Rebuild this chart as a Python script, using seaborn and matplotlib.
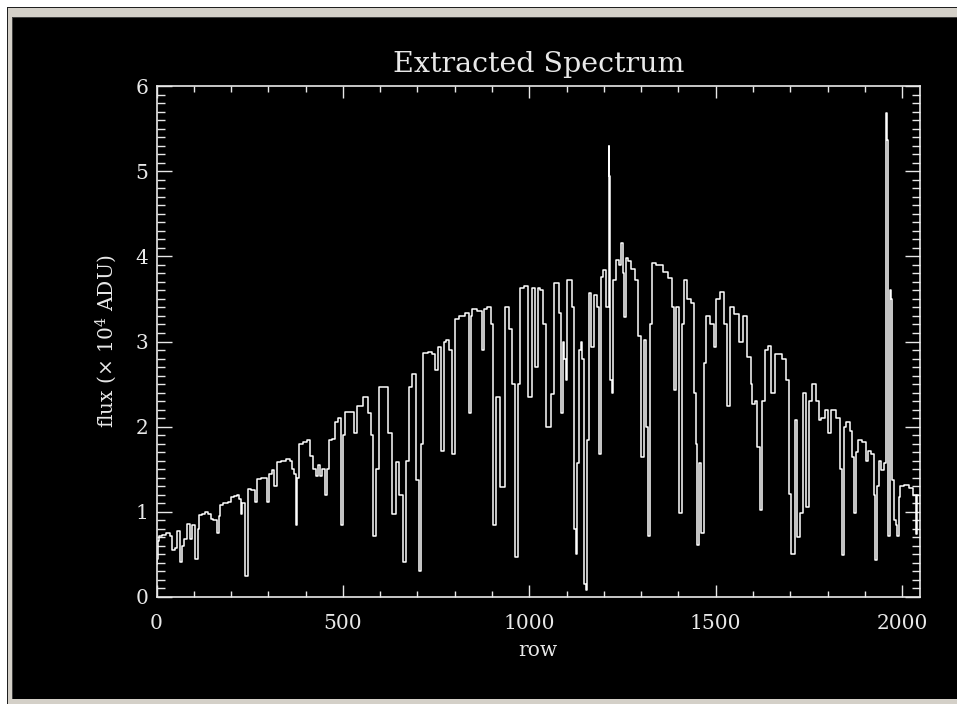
import matplotlib
matplotlib.use("Agg")
import matplotlib.pyplot as plt
from matplotlib.patches import Rectangle
from matplotlib.ticker import MultipleLocator
import seaborn as sns
import pandas as pd

# ---- data (row, flux in 1e4 ADU) ----
rows = [0, 3, 6, 10, 20, 30, 40, 45, 53, 58, 66, 70, 76, 85, 94, 99, 108, 112, 117, 125,
        135, 143, 148, 157, 166, 170, 173, 185, 197, 202, 212, 220, 224, 228, 233, 242, 249, 258,
        268, 273, 290, 295, 300, 305, 313, 318, 326, 340, 355, 360, 365, 372, 376, 380, 385,
        400, 410, 416, 425, 430, 435, 440, 447, 456, 460, 465, 475, 483, 492, 499, 503, 510,
        528, 532, 546, 560, 572, 578, 586, 592, 600, 617, 625, 638, 648, 655, 666, 672, 680,
        690, 702, 706, 712, 720, 735, 745, 751, 760, 768, 775, 780, 787, 797, 805, 820, 835,
        840, 845, 850, 870, 876, 880, 893, 900, 907, 916, 928, 940, 950, 958, 966, 972, 980,
        993, 1002, 1010, 1019, 1025, 1033, 1042, 1050, 1055, 1064, 1068, 1077, 1082, 1089,
        1091, 1095, 1100, 1104, 1113, 1118, 1122, 1126, 1131, 1135, 1140, 1144, 1149, 1153,
        1158, 1162, 1171, 1176, 1185, 1189, 1194, 1202, 1211, 1214, 1216, 1219, 1222, 1229,
        1238, 1244, 1250, 1253, 1256, 1261, 1269, 1278, 1287, 1296, 1303, 1310, 1316, 1321,
        1328, 1332, 1350, 1368, 1377, 1386, 1390, 1399, 1406, 1412, 1417, 1430, 1439, 1444,
        1448, 1453, 1457, 1466, 1471, 1479, 1493, 1497, 1506, 1515, 1529, 1533, 1542, 1555,
        1569, 1578, 1591, 1596, 1600, 1609, 1614, 1621, 1627, 1636, 1645, 1654, 1663, 1672,
        1685, 1694, 1698, 1707, 1716, 1721, 1730, 1739, 1748, 1752, 1766, 1774, 1779, 1788,
        1797, 1806, 1815, 1828, 1837, 1840, 1846, 1855, 1864, 1868, 1873, 1877, 1886, 1900,
        1904, 1913, 1922, 1926, 1931, 1935, 1940, 1949, 1953, 1959, 1962, 1965, 1968, 1972,
        1976, 1980, 1985, 1989, 1993, 1998, 2011, 2025, 2034, 2038, 2043]
flux = [0.39, 0.45, 0.66, 0.72, 0.73, 0.75, 0.72, 0.55, 0.58, 0.78, 0.41, 0.60, 0.68, 0.86, 0.68,
        0.85, 0.45, 0.80, 0.96, 0.98, 1.00, 0.98, 0.92, 0.90, 0.75, 0.95, 1.08, 1.10, 1.12, 1.18,
        1.19, 1.20, 1.15, 0.98, 1.10, 0.25, 1.27, 1.26, 1.12, 1.38, 1.40, 1.40, 1.12, 1.45, 1.49,
        1.30, 1.58, 1.60, 1.62, 1.60, 1.50, 1.45, 0.84, 1.40, 1.80, 1.82, 1.84, 1.66, 1.50, 1.42,
        1.55, 1.42, 1.50, 1.20, 1.50, 1.84, 1.86, 2.05, 2.10, 0.84, 1.90, 2.17, 2.17, 1.92, 2.24,
        2.35, 2.16, 1.90, 0.72, 1.50, 2.46, 2.47, 1.92, 0.98, 1.58, 1.20, 0.41, 1.60, 2.47, 2.62,
        1.37, 0.31, 1.80, 2.86, 2.88, 2.85, 2.66, 2.93, 1.72, 3.00, 3.02, 2.90, 1.68, 3.27, 3.30,
        3.34, 2.16, 3.30, 3.38, 3.36, 2.90, 3.38, 3.40, 3.20, 0.85, 2.35, 1.29, 3.40, 3.15, 2.50,
        0.47, 2.50, 3.63, 3.65, 2.35, 3.63, 2.70, 3.63, 3.60, 3.20, 2.00, 2.00, 2.38, 3.69, 3.69,
        3.33, 2.16, 3.00, 2.80, 2.55, 3.72, 3.72, 3.41, 0.80, 0.51, 1.57, 2.90, 3.00, 2.80, 0.15,
        0.08, 1.84, 3.57, 2.94, 3.55, 3.40, 1.68, 3.76, 3.84, 3.41, 5.29, 4.94, 2.55, 2.40, 3.72,
        3.96, 3.90, 4.16, 3.80, 3.29, 3.98, 3.95, 3.85, 3.72, 3.06, 1.64, 3.02, 2.00, 0.72, 3.20,
        3.92, 3.90, 3.82, 3.75, 3.41, 2.43, 3.41, 0.99, 3.20, 3.72, 3.50, 3.45, 2.40, 1.80, 0.61,
        1.57, 0.75, 2.75, 3.30, 3.20, 2.94, 3.50, 3.58, 3.20, 2.24, 3.40, 3.32, 3.00, 3.30, 2.82,
        2.50, 2.27, 2.30, 1.76, 1.02, 2.30, 2.90, 2.95, 2.40, 2.85, 2.85, 2.80, 2.55, 1.21, 0.51,
        2.08, 0.70, 0.99, 2.40, 1.06, 2.30, 2.50, 2.30, 2.08, 2.10, 2.20, 1.92, 2.20, 2.10, 1.50,
        0.49, 2.00, 2.05, 1.95, 1.64, 0.99, 1.70, 1.84, 1.82, 1.60, 1.72, 1.68, 1.20, 0.43, 1.30,
        1.60, 1.49, 1.57, 5.68, 5.37, 0.72, 3.60, 3.50, 1.37, 0.90, 0.85, 0.72, 1.17, 1.30, 1.32,
        1.28, 1.20, 0.74, 1.20]

x_ticks = [0, 500, 1000, 1500, 2000]
y_ticks = [0, 1, 2, 3, 4, 5, 6]
title_text = "Extracted Spectrum"
x_label = "row"
y_label = r"flux ($\times$ 10$^4$ ADU)"

df = pd.DataFrame({"row": rows, "flux": flux})

W, H = 957, 704
fig = plt.figure(figsize=(W / 100, H / 100), dpi=100)
fig.patch.set_facecolor("white")

plt.rcParams["font.family"] = ["DejaVu Serif"]
plt.rcParams["mathtext.fontset"] = "dejavuserif"

def px_rect(x0, y0, x1, y1, color):
    fig.add_artist(Rectangle((x0 / W, 1 - y1 / H), (x1 - x0) / W, (y1 - y0) / H,
                             transform=fig.transFigure, facecolor=color,
                             edgecolor="none", zorder=-10))

px_rect(7, 7, W, H, "#202020")
px_rect(8, 8, W, H, "#d4d0c8")
px_rect(12, 17, W, 699, "#404040")
px_rect(13, 18, W, 699, "black")

ax = fig.add_axes([156.5 / W, 1 - 597 / H, (920 - 156.5) / W, (597 - 86) / H])
ax.set_facecolor("black")

sns.lineplot(data=df, x="row", y="flux", ax=ax, color="white", linewidth=1.1,
             estimator=None, sort=False, drawstyle="steps-mid")

fg = "#e8e8e8"
ax.set_xlim(0, 2048)
ax.set_ylim(0, 6)
ax.set_xticks(x_ticks)
ax.set_yticks(y_ticks)
ax.xaxis.set_minor_locator(MultipleLocator(100))
ax.yaxis.set_minor_locator(MultipleLocator(0.1))
for s in ax.spines.values():
    s.set_color(fg)
    s.set_linewidth(1.2)
ax.tick_params(axis="both", which="both", direction="in", colors=fg,
               top=True, right=True, width=1.0)
ax.tick_params(axis="x", which="major", length=8.6, pad=12, labelsize=14.5)
ax.tick_params(axis="x", which="minor", length=4.3)
ax.tick_params(axis="y", which="major", length=11, pad=6, labelsize=14.5)
ax.tick_params(axis="y", which="minor", length=6)
for lab in ax.get_xticklabels() + ax.get_yticklabels():
    lab.set_color(fg)

ax.set_title(title_text, color=fg, fontsize=20.5, pad=10)
ax.set_xlabel(x_label, color=fg, fontsize=14.5, labelpad=6)
ax.set_ylabel(y_label, color=fg, fontsize=14.5, labelpad=12)
ax.get_legend() and ax.get_legend().remove()

fig.savefig("out.png", dpi=100, facecolor=fig.get_facecolor())
